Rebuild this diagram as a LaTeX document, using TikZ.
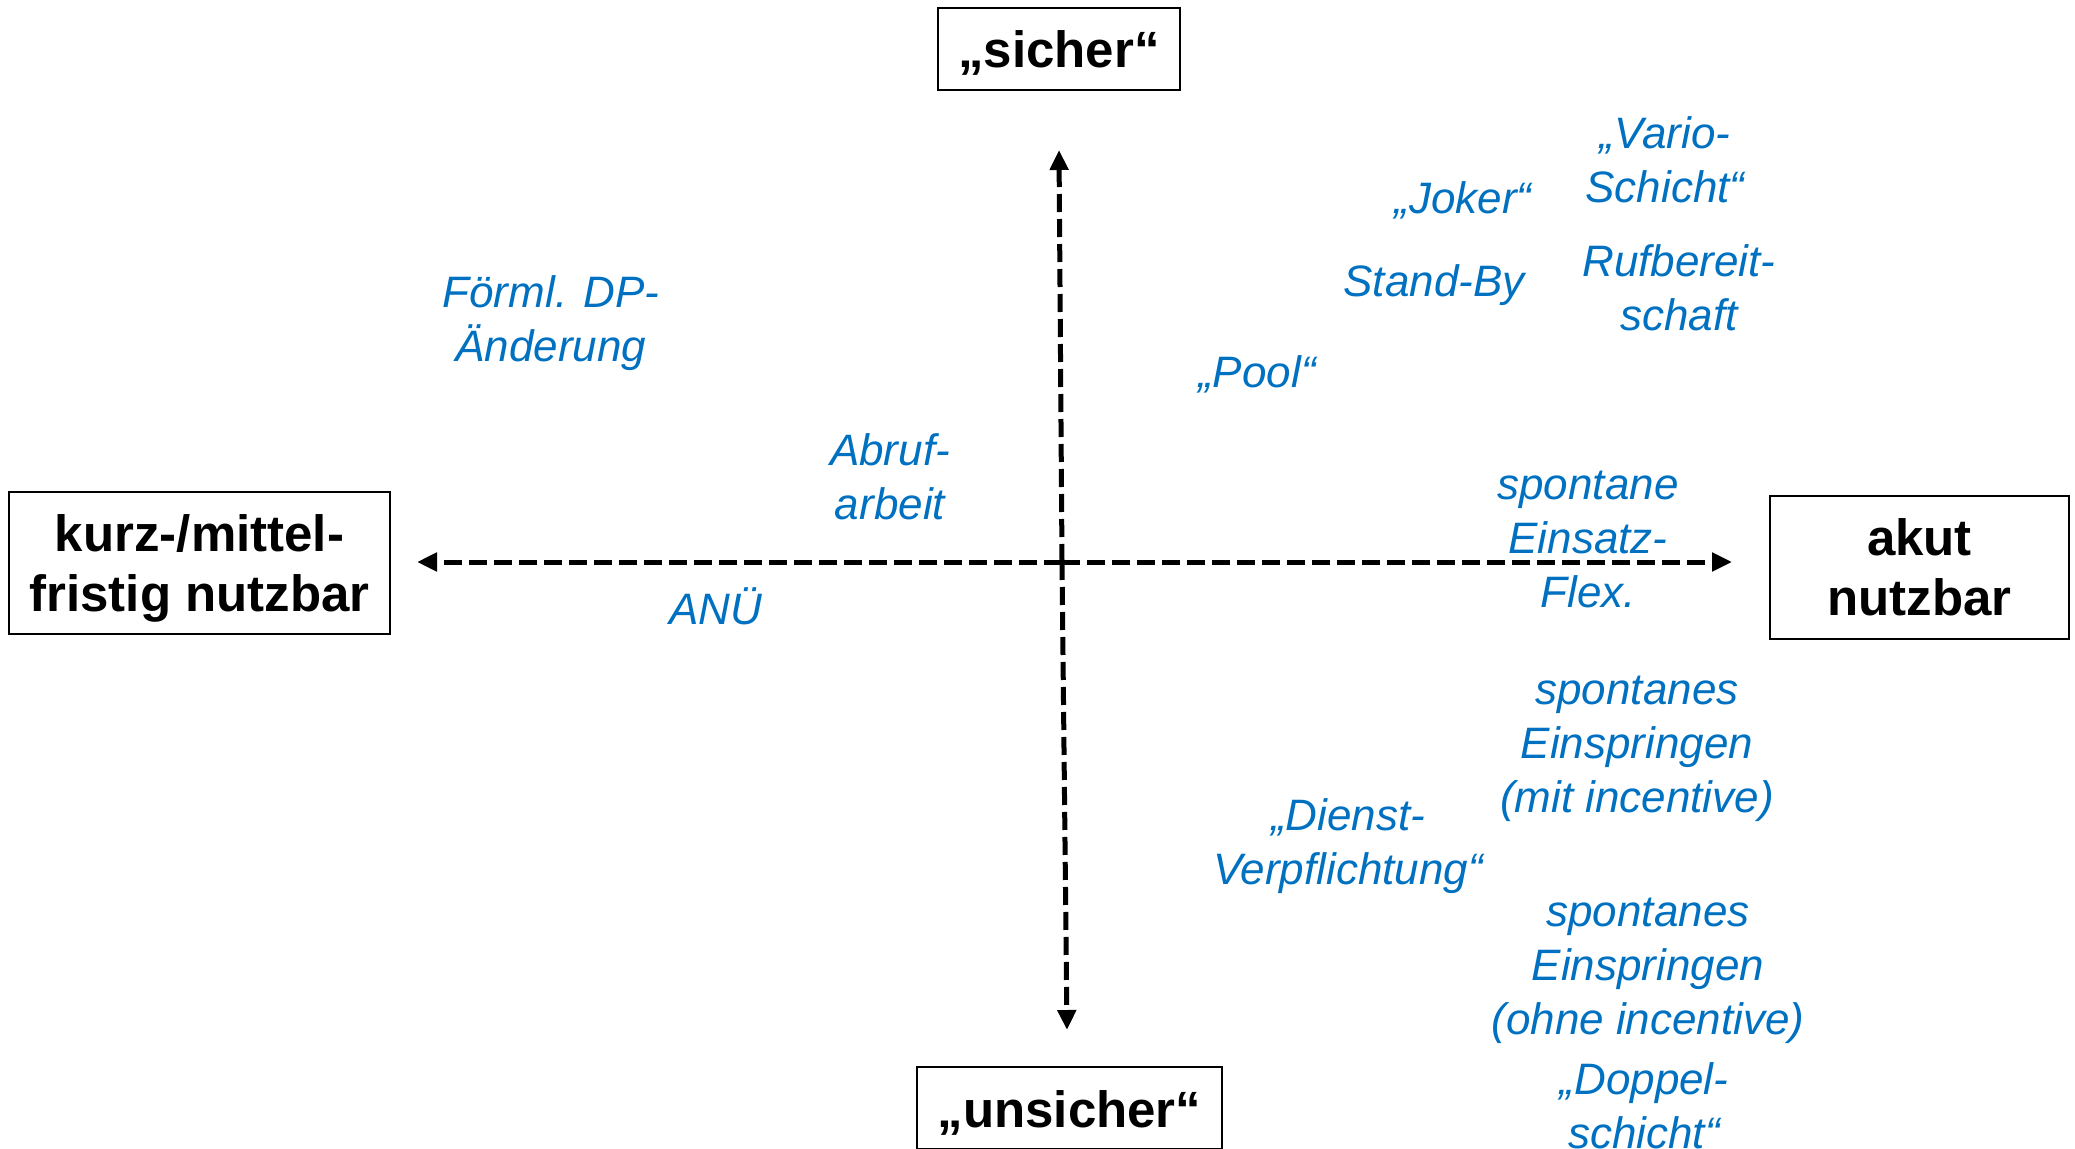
\documentclass[tikz,border=0pt]{standalone}
\usepackage{fontspec}
\setmainfont{Liberation Sans}
\usetikzlibrary{arrows.meta}
\definecolor{txtblue}{RGB}{0,112,192}
\tikzset{
  axisbox/.style={draw=black, line width=1.2pt, font=\fontsize{25.5}{30}\selectfont\bfseries, align=center, inner sep=0pt},
  item/.style={text=txtblue, font=\fontsize{22}{27}\selectfont\itshape, align=center, inner sep=0pt},
  axisarrow/.style={line width=2.5pt, dash pattern=on 9pt off 3.5pt, -{Triangle[length=10pt,width=9pt]}}
}
\newcommand{\nodepth}[1]{\raisebox{0pt}[\height][0pt]{#1}}
\begin{document}
\begin{tikzpicture}[x=0.5pt,y=-0.5pt]
\useasboundingbox (0,0) rectangle (2075,1149);
% axes
\coordinate (c) at (1062,562);
\coordinate (eL) at (417,562);
\coordinate (eR) at (1732,562);
\coordinate (eT) at (1059,150);
\coordinate (eB) at (1067,1030);
\draw[axisarrow] (c) -- (eL);
\draw[axisarrow] (c) -- (eR);
\draw[axisarrow] (c) -- (eT);
\draw[axisarrow] (c) -- (eB);
% boxes
\node[axisbox, minimum width=121pt, minimum height=41pt, text height=19pt, text depth=0pt] (sicher) at (1059,49) {„sicher“};
\node[axisbox, minimum width=152.5pt, minimum height=41pt, text height=19pt, text depth=0pt] (unsicher) at (1069.5,1108) {„unsicher“};
\node[axisbox, minimum width=190.5pt, minimum height=71pt] (kurz) at (199.5,563) {kurz-/mittel-\\\nodepth{fristig nutzbar}};
\node[axisbox, minimum width=149.5pt, minimum height=71.5pt] (akut) at (1919.5,567.5) {akut\\nutzbar};
% items
\node[item] (foerml) at (551,323) {Förml. DP-\\Änderung};
\node[item] (abruf) at (890,477) {Abruf-\\arbeit};
\node[item] (anue) at (716,606) {ANÜ};
\node[item] (pool) at (1257,374) {„Pool“};
\node[item] (joker) at (1463,200) {„Joker“};
\node[item] (standby) at (1434,285) {Stand-By};
\node[item] (vario) at (1665,160) {„Vario-\\Schicht“};
\node[item] (ruf) at (1679,288) {Rufbereit-\\schaft};
\node[item] (einsatz) at (1588,539) {spontane\\Einsatz-\\Flex.};
\node[item] (mit) at (1637,749) {spontanes\\Einspringen\\(mit incentive)};
\node[item] (dienst) at (1348,846) {„Dienst-\\Verpflichtung“};
\node[item] (ohne) at (1648,971) {spontanes\\Einspringen\\(ohne incentive)};
\node[item] (doppel) at (1644,1106) {„Doppel-\\schicht“};
\end{tikzpicture}
\end{document}
